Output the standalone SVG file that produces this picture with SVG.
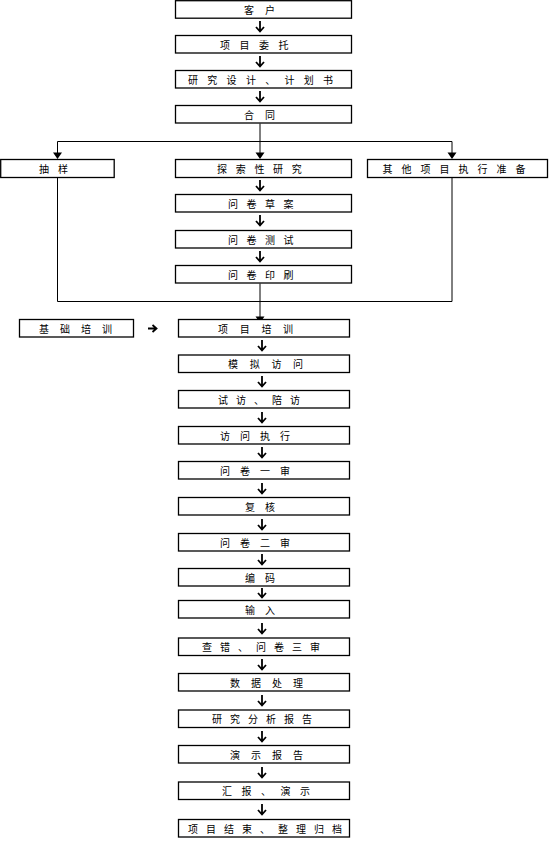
<svg xmlns="http://www.w3.org/2000/svg" width="553" height="849" viewBox="0 0 553 849">
<style>
.b{fill:#fff;stroke:#000;stroke-width:1.3}
.t{font-family:"Noto Sans CJK SC","Noto Sans CJK JP",sans-serif;font-size:10px;fill:#000}
.c{fill:none;stroke:#000;stroke-width:1}
.a{fill:none;stroke:#000;stroke-width:1.8}
.h{fill:#000;stroke:none}
</style>
<rect width="553" height="849" fill="#fff"/>
<g id="connectors">
  <path class="c" d="M260,123.5 V153 M57.5,141.5 H452 M57.5,141.5 V153 M452,141.5 V153"/>
  <path class="h" d="M255.5,152.5 H264.5 L260,159 Z M53,152.5 H62 L57.5,159 Z M447.5,152.5 H456.5 L452,159 Z"/>
  <path class="c" d="M57.5,177.5 V301.5 H452 V177.5 M260,283.5 V317"/>
  <path class="h" d="M255.5,316.5 H264.5 L260,323 Z"/>
  <path class="a" d="M260,21 V31 M256,27 L260,31.5 L264,27"/>
  <path class="a" d="M260,56 V66 M256,62 L260,66.5 L264,62"/>
  <path class="a" d="M260,91 V101 M256,97 L260,101.5 L264,97"/>
  <path class="a" d="M260,180 V190 M256,186 L260,190.5 L264,186"/>
  <path class="a" d="M260,215 V225 M256,221 L260,225.5 L264,221"/>
  <path class="a" d="M260,251 V261 M256,257 L260,261.5 L264,257"/>
  <path class="a" d="M148,328.5 H156 M152.5,325 L156.5,328.5 L152.5,332"/>
  <path class="a" d="M262,340 V350 M258,346 L262,350.5 L266,346"/>
  <path class="a" d="M262,376 V386 M258,382 L262,386.5 L266,382"/>
  <path class="a" d="M262,412 V422 M258,418 L262,422.5 L266,418"/>
  <path class="a" d="M262,447 V457 M258,453 L262,457.5 L266,453"/>
  <path class="a" d="M262,483 V493 M258,489 L262,493.5 L266,489"/>
  <path class="a" d="M262,519 V529 M258,525 L262,529.5 L266,525"/>
  <path class="a" d="M262,554 V564 M258,560 L262,564.5 L266,560"/>
  <path class="a" d="M262,588 V597 M258,593 L262,597.5 L266,593"/>
  <path class="a" d="M262,623 V633 M258,629 L262,633.5 L266,629"/>
  <path class="a" d="M262,659 V669 M258,665 L262,669.5 L266,665"/>
  <path class="a" d="M262,695 V705 M258,701 L262,705.5 L266,701"/>
  <path class="a" d="M262,731 V741 M258,737 L262,741.5 L266,737"/>
  <path class="a" d="M262,767 V777 M258,773 L262,777.5 L266,773"/>
  <path class="a" d="M262,804 V814 M258,810 L262,814.5 L266,810"/>
</g>
<g id="n1"><rect class="b" x="175.5" y="0.7" width="176" height="17.5"/><text class="t" x="244" y="13.5" letter-spacing="11">客户</text></g>
<g id="n2"><rect class="b" x="175.5" y="35.5" width="176" height="17.5"/><text class="t" x="220" y="48.5" letter-spacing="9.5">项目委托</text></g>
<g id="n3"><rect class="b" x="175.5" y="70.5" width="176" height="17.5"/><text class="t" x="188" y="83.5" letter-spacing="9.3">研究设计、计划书</text></g>
<g id="n4"><rect class="b" x="175.5" y="105.5" width="176" height="17.5"/><text class="t" x="244" y="118.5" letter-spacing="11">合同</text></g>
<g id="n5"><rect class="b" x="0.7" y="159.5" width="113.5" height="18"/><text class="t" x="39" y="172.5" letter-spacing="9">抽样</text></g>
<g id="n6"><rect class="b" x="175.5" y="159.5" width="176" height="18"/><text class="t" x="217" y="172.5" letter-spacing="8.7">探索性研究</text></g>
<g id="n7"><rect class="b" x="367.5" y="159.5" width="180" height="18"/><text class="t" x="382.5" y="172.5" letter-spacing="9">其他项目执行准备</text></g>
<g id="n8"><rect class="b" x="175.5" y="194.5" width="176" height="17.5"/><text class="t" x="228" y="207.5" letter-spacing="8.5">问卷草案</text></g>
<g id="n9"><rect class="b" x="175.5" y="230.5" width="176" height="17.5"/><text class="t" x="228" y="243.5" letter-spacing="8.5">问卷测试</text></g>
<g id="n10"><rect class="b" x="175.5" y="265.5" width="176" height="17.5"/><text class="t" x="228" y="278.5" letter-spacing="8.5">问卷印刷</text></g>
<g id="n11"><rect class="b" x="19.5" y="319.5" width="114" height="17.5"/><text class="t" x="39" y="332.5" letter-spacing="11">基础培训</text></g>
<g id="n12"><rect class="b" x="178.5" y="319.5" width="171" height="17.5"/><text class="t" x="218" y="332.5" letter-spacing="11.7">项目培训</text></g>
<g id="n13"><rect class="b" x="178.5" y="355" width="171" height="17.5"/><text class="t" x="228" y="368" letter-spacing="11.7">模拟访问</text></g>
<g id="n14"><rect class="b" x="178.5" y="390.5" width="171" height="17.5"/><text class="t" x="218" y="403.5" letter-spacing="8">试访、陪访</text></g>
<g id="n15"><rect class="b" x="178.5" y="426.5" width="171" height="17.5"/><text class="t" x="220" y="439.5" letter-spacing="10">访问执行</text></g>
<g id="n16"><rect class="b" x="178.5" y="461.5" width="171" height="17.5"/><text class="t" x="220" y="474.5" letter-spacing="10">问卷一审</text></g>
<g id="n17"><rect class="b" x="178.5" y="497.5" width="171" height="17.5"/><text class="t" x="245" y="510.5" letter-spacing="10">复核</text></g>
<g id="n18"><rect class="b" x="178.5" y="533.5" width="171" height="17.5"/><text class="t" x="220" y="546.5" letter-spacing="10">问卷二审</text></g>
<g id="n19"><rect class="b" x="178.5" y="568.5" width="171" height="17.5"/><text class="t" x="245" y="581.5" letter-spacing="10">编码</text></g>
<g id="n20"><rect class="b" x="178.5" y="600.5" width="171" height="17.5"/><text class="t" x="245" y="613.5" letter-spacing="10">输入</text></g>
<g id="n21"><rect class="b" x="178.5" y="638" width="171" height="17.5"/><text class="t" x="202" y="651" letter-spacing="8">查错、问卷三审</text></g>
<g id="n22"><rect class="b" x="178.5" y="673.5" width="171" height="17.5"/><text class="t" x="230" y="686.5" letter-spacing="11">数据处理</text></g>
<g id="n23"><rect class="b" x="178.5" y="710" width="171" height="17.5"/><text class="t" x="212" y="723" letter-spacing="8">研究分析报告</text></g>
<g id="n24"><rect class="b" x="178.5" y="745.5" width="171" height="17.5"/><text class="t" x="230" y="758.5" letter-spacing="11">演示报告</text></g>
<g id="n25"><rect class="b" x="178.5" y="782" width="171" height="17.5"/><text class="t" x="222" y="795" letter-spacing="9.5">汇报、演示</text></g>
<g id="n26"><rect class="b" x="178.5" y="819.5" width="171" height="17.5"/><text class="t" x="188" y="832.5" letter-spacing="8">项目结束、整理归档</text></g>
</svg>
